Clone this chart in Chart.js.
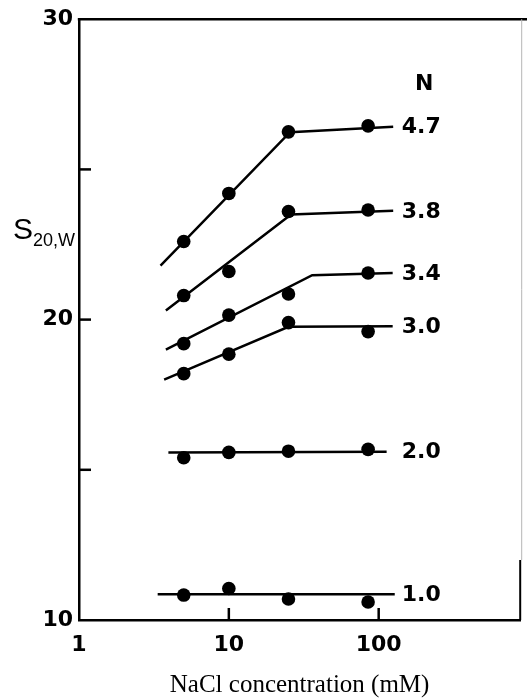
<!DOCTYPE html>
<html><head><meta charset="utf-8">
<script src="https://cdn.jsdelivr.net/npm/chart.js@4.4.0/dist/chart.umd.min.js"></script>
<style>html,body{margin:0;padding:0;background:#fff}#wrap{width:527px;height:700px;position:relative}</style>
</head><body><div id="wrap"><canvas id="c"></canvas></div>
<script>
// NaCl concentrations (mM) of the measured points
const nacl = [5, 10, 25, 85];
// N labels of each series
const seriesN = ['4.7', '3.8', '3.4', '3.0', '2.0', '1.0'];
// S20,w values at each concentration
const s47 = [22.6, 24.2, 26.25, 26.45];
const s38 = [20.8, 21.6, 23.6, 23.65];
const s34 = [19.2, 20.15, 20.85, 21.55];
const s30 = [18.2, 18.85, 19.9, 19.6];
const s20 = [15.4, 15.58, 15.62, 15.68];
const s10 = [10.83, 11.05, 10.7, 10.6];
// fitted lines (breakpoints)
const fit47X = [3.5, 25.6, 125], fit47Y = [21.8, 26.24, 26.42];
const fit38X = [3.8, 26, 125],   fit38Y = [20.3, 23.5, 23.62];
const fit34X = [3.8, 36, 124],   fit34Y = [19.0, 21.48, 21.55];
const fit30X = [3.7, 25, 124],   fit30Y = [18.0, 19.76, 19.78];
const fit20X = [3.95, 113],      fit20Y = [15.58, 15.6];
const fit10X = [3.35, 128],      fit10Y = [10.86, 10.86];
// axis ticks
const xTickLabels = [1, 10, 100];
const yTickLabels = [10, 20, 30];
const xTickMarks = [10, 100];
const yTickMarks = [15, 20, 25];

const pointSets = [s47, s38, s34, s30, s20, s10];
const fitSets = [[fit47X, fit47Y], [fit38X, fit38Y], [fit34X, fit34Y], [fit30X, fit30Y], [fit20X, fit20Y], [fit10X, fit10Y]];

const datasets = [];
fitSets.forEach((f, i) => {
  datasets.push({
    type: 'line', label: 'fit ' + seriesN[i],
    data: f[0].map((v, k) => ({x: v, y: f[1][k]})),
    borderColor: '#000', borderWidth: 2.5, pointRadius: 0, tension: 0, fill: false
  });
});
pointSets.forEach((s, i) => {
  datasets.push({
    type: 'scatter', label: 'N ' + seriesN[i],
    data: nacl.map((v, k) => ({x: v, y: s[k]})),
    backgroundColor: '#000', borderWidth: 0, pointRadius: 6.8, pointHoverRadius: 6.8
  });
});

const deco = {
  id: 'deco',
  afterDatasetsDraw(chart) {
    const {ctx, chartArea: a, scales: {x, y}} = chart;
    ctx.save();
    ctx.strokeStyle = '#000'; ctx.lineWidth = 2.5; ctx.lineCap = 'butt';
    ctx.beginPath(); ctx.moveTo(a.left - 1.2, a.top); ctx.lineTo(chart.width, a.top); ctx.stroke();
    ctx.lineWidth = 1; ctx.strokeStyle = '#b5b5b5';
    ctx.beginPath(); ctx.moveTo(a.right + 1.5, a.top); ctx.lineTo(a.right + 1.5, a.bottom - 60); ctx.stroke();
    ctx.strokeStyle = '#000'; ctx.lineWidth = 2;
    ctx.beginPath(); ctx.moveTo(a.right, a.bottom - 60); ctx.lineTo(a.right, a.bottom); ctx.stroke();
    ctx.lineWidth = 2.5;
    xTickMarks.forEach(v => { const p = x.getPixelForValue(v); ctx.beginPath(); ctx.moveTo(p, a.bottom); ctx.lineTo(p, a.bottom - 12); ctx.stroke(); });
    yTickMarks.forEach(v => { const p = y.getPixelForValue(v); ctx.beginPath(); ctx.moveTo(a.left, p); ctx.lineTo(a.left + 12, p); ctx.stroke(); });
    ctx.fillStyle = '#000'; ctx.font = 'bold 22px "DejaVu Sans"'; ctx.textBaseline = 'middle'; ctx.textAlign = 'left';
    const labX = Math.max(...fitSets.map(f => x.getPixelForValue(f[0][f[0].length - 1]))) + 7;
    let firstLab = null;
    fitSets.forEach((f, i) => {
      const n = f[0].length - 1;
      const py = y.getPixelForValue(f[1][n]) + 1;
      ctx.fillText(seriesN[i], labX, py);
      if (i === 0) firstLab = [labX + ctx.measureText(seriesN[i]).width / 2, py];
    });
    ctx.textAlign = 'center';
    ctx.fillText('N', firstLab[0] + 3, firstLab[1] - 43);
    ctx.textAlign = 'left'; ctx.textBaseline = 'alphabetic';
    ctx.font = '30px "Liberation Sans"';
    ctx.fillText('S', 13, 239);
    const w = ctx.measureText('S').width;
    ctx.font = '18px "Liberation Sans"';
    ctx.fillText('20,W', 13 + w, 246);
    ctx.restore();
  }
};

new Chart(document.getElementById('c'), {
  data: {datasets},
  plugins: [deco],
  options: {
    responsive: true, maintainAspectRatio: false, animation: false,
    layout: {padding: {top: 19, right: 2, left: 0, bottom: 0}},
    plugins: {legend: {display: false}, tooltip: {enabled: false}},
    scales: {
      x: {
        type: 'logarithmic', min: 1, max: 880, position: 'bottom',
        afterBuildTicks: s => { s.ticks = xTickLabels.map(v => ({value: v})); },
        afterFit: s => { s.height = 80; },
        grid: {display: false, drawTicks: false},
        border: {display: true, color: '#000', width: 2.5},
        ticks: {autoSkip: false, maxRotation: 0, padding: 12, color: '#000',
          font: {family: 'DejaVu Sans', size: 22, weight: 'bold'}, callback: v => String(v)},
        title: {display: true, text: 'NaCl concentration (mM)', color: '#000',
          font: {family: 'Liberation Serif', size: 25}, padding: {top: 0, bottom: 0}}
      },
      y: {
        type: 'linear', min: 10, max: 30,
        afterBuildTicks: s => { s.ticks = yTickLabels.map(v => ({value: v})); },
        afterFit: s => { s.width = 79; },
        grid: {display: false, drawTicks: false},
        border: {display: true, color: '#000', width: 2.5},
        ticks: {padding: 6, color: '#000', font: {family: 'DejaVu Sans', size: 22, weight: 'bold'}, callback: v => String(v)}
      }
    }
  }
});
</script></body></html>
